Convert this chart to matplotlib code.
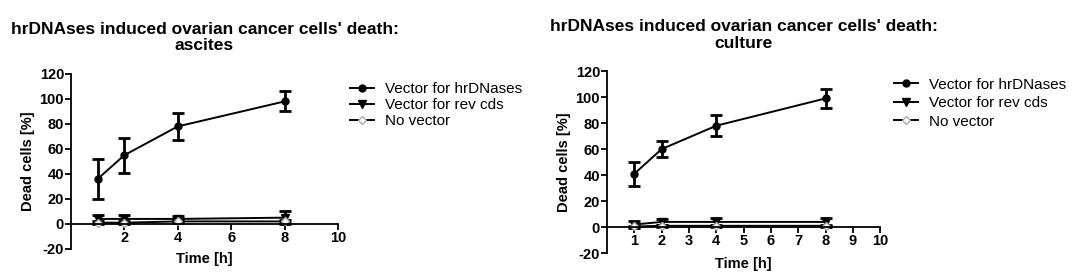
import matplotlib.pyplot as plt
from matplotlib.lines import Line2D

plt.rcParams['font.family'] = ['Liberation Sans', 'DejaVu Sans']
plt.rcParams['axes.unicode_minus'] = False

TITLE_LINE = "hrDNAses induced ovarian cancer cells' death:"
SERIES_NAMES = ['Vector for hrDNases', 'Vector for rev cds', 'No vector']

time_h = [1, 2, 4, 8]

# ascites
asc_hr = [36, 55, 78, 98]
asc_hr_err = [16, 14, 11, 8]
asc_rev = [4, 4, 4, 5]
asc_rev_err = [3, 3, 2, 5]
asc_none = [1, 1, 2, 2]
asc_none_err = [1, 1, 1, 1]

# culture
cul_hr = [41, 60, 78, 99]
cul_hr_err = [9, 6, 8, 7]
cul_rev = [2, 4, 4, 4]
cul_rev_err = [3, 2, 3, 3]
cul_none = [0.5, 1, 1, 1]
cul_none_err = [0.5, 1, 1, 1]

x_ticks_left = [2, 4, 6, 8, 10]
x_ticks_right = [1, 2, 3, 4, 5, 6, 7, 8, 9, 10]
y_ticks = [-20, 0, 20, 40, 60, 80, 100, 120]

STYLES = [
    dict(marker='o', markersize=5, markerfacecolor='black',
         markeredgecolor='black', color='black'),
    dict(marker='v', markersize=6, markerfacecolor='black',
         markeredgecolor='black', color='black'),
    dict(marker='D', markersize=4, markerfacecolor='white',
         markeredgecolor='#aaaaaa', color='black'),
]


def _panel(fig, rect, subtitle, hr, hr_err, rev, rev_err, none, none_err,
           xticks, legend_xy, legend_spacing):
    ax = fig.add_axes(rect)
    data = [(hr, hr_err), (rev, rev_err), (none, none_err)]
    for (y, e), st in zip(data, STYLES):
        ax.errorbar(time_h, y, yerr=e, linewidth=1.4, elinewidth=2,
                    capsize=4, capthick=2, ecolor='black', **st)

    ax.set_xlim(0, 10)
    ax.set_ylim(-20, 120)
    ax.set_xticks(xticks)
    ax.set_yticks(y_ticks)
    ax.spines['top'].set_visible(False)
    ax.spines['right'].set_visible(False)
    ax.spines['bottom'].set_position(('data', 0))
    ax.spines['left'].set_linewidth(1.3)
    ax.spines['bottom'].set_linewidth(1.3)
    ax.tick_params(direction='out', length=4, width=1.3, labelsize=10.5,
                   pad=1)
    for lab in ax.get_xticklabels() + ax.get_yticklabels():
        lab.set_fontweight('bold')

    ax.set_ylabel('Dead cells [%]', fontsize=10.5, fontweight='bold',
                  labelpad=3)
    ax.set_xlabel('Time [h]', fontsize=10.5, fontweight='bold')
    ax.xaxis.set_label_coords(0.5, -0.02)
    ax.set_title(TITLE_LINE + '\n' + subtitle, fontsize=12.5,
                 fontweight='bold', pad=17, linespacing=1.15)

    handles = [Line2D([], [], linewidth=1.4, **st) for st in STYLES]
    ax.legend(handles, SERIES_NAMES, loc='upper left',
              bbox_to_anchor=legend_xy, bbox_transform=fig.transFigure,
              frameon=False, fontsize=11, handlelength=1.6,
              handletextpad=0.7, labelspacing=legend_spacing,
              borderaxespad=0)
    return ax


fig = plt.figure(figsize=(10.8, 2.8), dpi=100)

_panel(fig, [0.0657, 0.111, 0.2473, 0.625], 'ascites',
       asc_hr, asc_hr_err, asc_rev, asc_rev_err, asc_none, asc_none_err,
       x_ticks_left, (0.318, 0.728), 0.12)
_panel(fig, [0.562, 0.096, 0.253, 0.65], 'culture',
       cul_hr, cul_hr_err, cul_rev, cul_rev_err, cul_none, cul_none_err,
       x_ticks_right, (0.822, 0.745), 0.3)

fig.savefig('out.png', dpi=100)
